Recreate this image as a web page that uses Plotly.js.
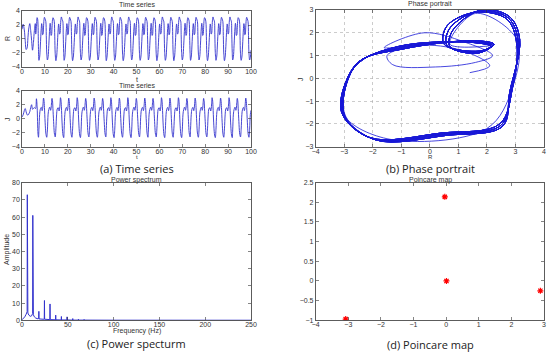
<!DOCTYPE html>
<html>
<head>
<meta charset="utf-8">
<script src="https://cdn.plot.ly/plotly-3.0.1.min.js"></script>
<style>html,body{margin:0;padding:0;background:#fff;}#chart{width:550px;height:352px;}</style>
</head>
<body>
<div id="chart"></div>
<script>
// ---- Time series (t, R, J): transient first, then one row per cycle ----
const tTime = [
  0.0,0.5,1.0,1.4,1.8,2.2,2.6,3.0,3.4,3.8,4.2,4.6,5.0,5.4,5.8,6.0,6.3,6.6,6.8,7.0,7.2,
  7.4,7.7,8.0,8.4,8.6,8.8,9.0,9.2,9.4,9.6,9.8,10.1,10.4,10.6,10.8,
  11.1,11.4,11.7,12.1,12.3,12.5,12.7,12.9,13.1,13.3,13.5,13.8,14.1,14.3,14.5,
  14.8,15.1,15.4,15.8,16.0,16.2,16.4,16.6,16.8,17.0,17.2,17.5,17.8,18.0,18.2,
  18.4,18.7,19.0,19.4,19.6,19.8,20.0,20.2,20.4,20.6,20.8,21.1,21.4,21.6,21.8,
  22.1,22.4,22.7,23.1,23.3,23.5,23.7,23.9,24.1,24.3,24.5,24.8,25.1,25.3,25.5,
  25.8,26.1,26.4,26.8,27.0,27.2,27.4,27.6,27.8,28.0,28.2,28.5,28.8,29.0,29.2,
  29.5,29.8,30.1,30.5,30.7,30.9,31.1,31.3,31.5,31.7,31.9,32.2,32.5,32.7,32.9,
  33.2,33.5,33.8,34.2,34.4,34.6,34.8,35.0,35.2,35.4,35.6,35.9,36.2,36.4,36.6,
  36.8,37.1,37.4,37.8,38.0,38.2,38.4,38.6,38.8,39.0,39.2,39.5,39.8,40.0,40.2,
  40.5,40.8,41.1,41.5,41.7,41.9,42.1,42.3,42.5,42.7,42.9,43.2,43.5,43.7,43.9,
  44.2,44.5,44.8,45.2,45.4,45.6,45.8,46.0,46.2,46.4,46.6,46.9,47.2,47.4,47.6,
  47.9,48.2,48.5,48.9,49.1,49.3,49.5,49.7,49.9,50.1,50.3,50.6,50.9,51.1,51.3,
  51.6,51.9,52.2,52.6,52.8,53.0,53.2,53.4,53.6,53.8,54.0,54.3,54.6,54.8,55.0,
  55.2,55.5,55.8,56.2,56.4,56.6,56.8,57.0,57.2,57.4,57.6,57.9,58.2,58.4,58.6,
  58.9,59.2,59.5,59.9,60.1,60.3,60.5,60.7,60.9,61.1,61.3,61.6,61.9,62.1,62.3,
  62.6,62.9,63.2,63.6,63.8,64.0,64.2,64.4,64.6,64.8,65.0,65.3,65.6,65.8,66.0,
  66.3,66.6,66.9,67.3,67.5,67.7,67.9,68.1,68.3,68.5,68.7,69.0,69.3,69.5,69.7,
  70.0,70.3,70.6,71.0,71.2,71.4,71.6,71.8,72.0,72.2,72.4,72.7,73.0,73.2,73.4,
  73.6,73.9,74.2,74.6,74.8,75.0,75.2,75.4,75.6,75.8,76.0,76.3,76.6,76.8,77.0,
  77.3,77.6,77.9,78.3,78.5,78.7,78.9,79.1,79.3,79.5,79.7,80.0,80.3,80.5,80.7,
  81.0,81.3,81.6,82.0,82.2,82.4,82.6,82.8,83.0,83.2,83.4,83.7,84.0,84.2,84.4,
  84.7,85.0,85.3,85.7,85.9,86.1,86.3,86.5,86.7,86.9,87.1,87.4,87.7,87.9,88.1,
  88.4,88.7,89.0,89.4,89.6,89.8,90.0,90.2,90.4,90.6,90.8,91.1,91.4,91.6,91.8,
  92.0,92.3,92.6,93.0,93.2,93.4,93.6,93.8,94.0,94.2,94.4,94.7,95.0,95.2,95.4,
  95.7,96.0,96.3,96.7,96.9,97.1,97.3,97.5,97.7,97.9,98.1,98.4,98.7,98.9,99.1,
  99.4,99.7,100.0
];
const seriesR = [
  1.4,2.1,1.3,-0.2,-1.5,-1.3,0.2,1.6,2.2,1.2,-0.2,-1.6,-0.5,1.2,2.2,0.7,1.6,3.05,2.9,2.0,-1.5,
  -3.05,-2.6,-1.0,1.5,2.2,1.7,0.6,0.7,1.7,2.75,3.1,2.85,2.5,0.5,-2.0,
  -3.0,-2.55,-0.9,1.6,2.25,1.75,0.5,0.6,1.6,2.7,3.05,2.9,2.45,0.4,-2.1,
  -3.1,-2.6,-1.1,1.45,2.15,1.65,0.7,0.8,1.8,2.8,3.15,2.8,2.55,0.6,-1.9,
  -3.05,-2.6,-1.0,1.5,2.2,1.7,0.6,0.7,1.7,2.75,3.1,2.85,2.5,0.5,-2.0,
  -3.1,-2.6,-1.1,1.45,2.15,1.65,0.7,0.8,1.8,2.8,3.15,2.8,2.55,0.6,-1.9,
  -3.0,-2.55,-0.9,1.6,2.25,1.75,0.5,0.6,1.6,2.7,3.05,2.9,2.45,0.4,-2.1,
  -3.05,-2.6,-1.0,1.5,2.2,1.7,0.6,0.7,1.7,2.75,3.1,2.85,2.5,0.5,-2.0,
  -3.0,-2.55,-0.9,1.6,2.25,1.75,0.5,0.6,1.6,2.7,3.05,2.9,2.45,0.4,-2.1,
  -3.1,-2.6,-1.1,1.45,2.15,1.65,0.7,0.8,1.8,2.8,3.15,2.8,2.55,0.6,-1.9,
  -3.05,-2.6,-1.0,1.5,2.2,1.7,0.6,0.7,1.7,2.75,3.1,2.85,2.5,0.5,-2.0,
  -3.1,-2.6,-1.1,1.45,2.15,1.65,0.7,0.8,1.8,2.8,3.15,2.8,2.55,0.6,-1.9,
  -3.0,-2.55,-0.9,1.6,2.25,1.75,0.5,0.6,1.6,2.7,3.05,2.9,2.45,0.4,-2.1,
  -3.05,-2.6,-1.0,1.5,2.2,1.7,0.6,0.7,1.7,2.75,3.1,2.85,2.5,0.5,-2.0,
  -3.0,-2.55,-0.9,1.6,2.25,1.75,0.5,0.6,1.6,2.7,3.05,2.9,2.45,0.4,-2.1,
  -3.1,-2.6,-1.1,1.45,2.15,1.65,0.7,0.8,1.8,2.8,3.15,2.8,2.55,0.6,-1.9,
  -3.05,-2.6,-1.0,1.5,2.2,1.7,0.6,0.7,1.7,2.75,3.1,2.85,2.5,0.5,-2.0,
  -3.1,-2.6,-1.1,1.45,2.15,1.65,0.7,0.8,1.8,2.8,3.15,2.8,2.55,0.6,-1.9,
  -3.0,-2.55,-0.9,1.6,2.25,1.75,0.5,0.6,1.6,2.7,3.05,2.9,2.45,0.4,-2.1,
  -3.05,-2.6,-1.0,1.5,2.2,1.7,0.6,0.7,1.7,2.75,3.1,2.85,2.5,0.5,-2.0,
  -3.0,-2.55,-0.9,1.6,2.25,1.75,0.5,0.6,1.6,2.7,3.05,2.9,2.45,0.4,-2.1,
  -3.1,-2.6,-1.1,1.45,2.15,1.65,0.7,0.8,1.8,2.8,3.15,2.8,2.55,0.6,-1.9,
  -3.05,-2.6,-1.0,1.5,2.2,1.7,0.6,0.7,1.7,2.75,3.1,2.85,2.5,0.5,-2.0,
  -3.1,-2.6,-1.1,1.45,2.15,1.65,0.7,0.8,1.8,2.8,3.15,2.8,2.55,0.6,-1.9,
  -3.0,-2.55,-0.9,1.6,2.25,1.75,0.5,0.6,1.6,2.7,3.05,2.9,2.45,0.4,-2.1,
  -3.05,-2.6,-1.0,1.5,2.2,1.7,0.6,0.7,1.7,2.75,3.1,2.85,2.5,0.5,-2.0,
  -3.0,-2.6,-1.6
];
const seriesJ = [
  0.25,0.55,1.15,1.45,1.0,0.6,0.5,0.7,1.0,1.6,2.0,1.35,1.45,1.6,1.45,1.5,2.85,1.7,-0.4,-2.2,-2.65,
  -1.5,0.6,1.35,1.62,1.45,1.15,1.45,2.2,2.95,2.65,1.6,-0.5,-2.05,-2.45,-2.65,
  -1.6,0.65,1.3,1.65,1.5,1.2,1.5,2.3,2.9,2.6,1.5,-0.4,-2.0,-2.4,-2.6,
  -1.45,0.55,1.4,1.58,1.4,1.1,1.4,2.1,3.0,2.7,1.7,-0.6,-2.1,-2.5,-2.7,
  -1.5,0.6,1.35,1.62,1.45,1.15,1.45,2.2,2.95,2.65,1.6,-0.5,-2.05,-2.45,-2.65,
  -1.45,0.55,1.4,1.58,1.4,1.1,1.4,2.1,3.0,2.7,1.7,-0.6,-2.1,-2.5,-2.7,
  -1.6,0.65,1.3,1.65,1.5,1.2,1.5,2.3,2.9,2.6,1.5,-0.4,-2.0,-2.4,-2.6,
  -1.5,0.6,1.35,1.62,1.45,1.15,1.45,2.2,2.95,2.65,1.6,-0.5,-2.05,-2.45,-2.65,
  -1.6,0.65,1.3,1.65,1.5,1.2,1.5,2.3,2.9,2.6,1.5,-0.4,-2.0,-2.4,-2.6,
  -1.45,0.55,1.4,1.58,1.4,1.1,1.4,2.1,3.0,2.7,1.7,-0.6,-2.1,-2.5,-2.7,
  -1.5,0.6,1.35,1.62,1.45,1.15,1.45,2.2,2.95,2.65,1.6,-0.5,-2.05,-2.45,-2.65,
  -1.45,0.55,1.4,1.58,1.4,1.1,1.4,2.1,3.0,2.7,1.7,-0.6,-2.1,-2.5,-2.7,
  -1.6,0.65,1.3,1.65,1.5,1.2,1.5,2.3,2.9,2.6,1.5,-0.4,-2.0,-2.4,-2.6,
  -1.5,0.6,1.35,1.62,1.45,1.15,1.45,2.2,2.95,2.65,1.6,-0.5,-2.05,-2.45,-2.65,
  -1.6,0.65,1.3,1.65,1.5,1.2,1.5,2.3,2.9,2.6,1.5,-0.4,-2.0,-2.4,-2.6,
  -1.45,0.55,1.4,1.58,1.4,1.1,1.4,2.1,3.0,2.7,1.7,-0.6,-2.1,-2.5,-2.7,
  -1.5,0.6,1.35,1.62,1.45,1.15,1.45,2.2,2.95,2.65,1.6,-0.5,-2.05,-2.45,-2.65,
  -1.45,0.55,1.4,1.58,1.4,1.1,1.4,2.1,3.0,2.7,1.7,-0.6,-2.1,-2.5,-2.7,
  -1.6,0.65,1.3,1.65,1.5,1.2,1.5,2.3,2.9,2.6,1.5,-0.4,-2.0,-2.4,-2.6,
  -1.5,0.6,1.35,1.62,1.45,1.15,1.45,2.2,2.95,2.65,1.6,-0.5,-2.05,-2.45,-2.65,
  -1.6,0.65,1.3,1.65,1.5,1.2,1.5,2.3,2.9,2.6,1.5,-0.4,-2.0,-2.4,-2.6,
  -1.45,0.55,1.4,1.58,1.4,1.1,1.4,2.1,3.0,2.7,1.7,-0.6,-2.1,-2.5,-2.7,
  -1.5,0.6,1.35,1.62,1.45,1.15,1.45,2.2,2.95,2.65,1.6,-0.5,-2.05,-2.45,-2.65,
  -1.45,0.55,1.4,1.58,1.4,1.1,1.4,2.1,3.0,2.7,1.7,-0.6,-2.1,-2.5,-2.7,
  -1.6,0.65,1.3,1.65,1.5,1.2,1.5,2.3,2.9,2.6,1.5,-0.4,-2.0,-2.4,-2.6,
  -1.5,0.6,1.35,1.62,1.45,1.15,1.45,2.2,2.95,2.65,1.6,-0.5,-2.05,-2.45,-2.65,
  -1.5,0.6,1.2
];

// ---- Power spectrum ----
const freqHz = [0,1.5,3,4.5,5.6,5.8,5.9,6.0,6.1,6.4,7.5,9,10.5,11.6,11.8,11.9,12.0,12.1,12.4,13.5,15,17.5,
  18.2,18.4,18.6,23,24.3,24.5,24.7,30.4,30.6,30.8,36.6,36.8,37.0,42.8,43.0,43.2,49.0,49.2,49.4,
  55.2,55.4,55.6,61.4,61.6,61.8,67.6,67.8,68.0,100,250];
const amplitude = [0.3,1.0,2.0,3.5,5,73,6,47,5,4.2,3,2.3,2.6,4,61,5,29,4.5,3.2,2,1.3,0.8,
  1,5.2,0.8,0.6,0.6,11.5,0.6,0.4,9.5,0.4,0.3,3,0.3,0.2,2.2,0.2,0.2,2.0,0.2,
  0.1,1.0,0.1,0.1,0.6,0.1,0.1,0.5,0.1,0.05,0.02];

// ---- Poincare map ----
const poincareR = [-0.04, 0.01, 2.89, -3.08];
const poincareJ = [2.14, 0.0, -0.25, -0.97];

const lineBlue = 'rgb(50,50,205)';
const traces = [
  {x: tTime, y: seriesR, xaxis:'x', yaxis:'y', type:'scatter', mode:'lines',
   line:{color:lineBlue, width:0.9, shape:'spline', smoothing:1}},
  {x: tTime, y: seriesJ, xaxis:'x2', yaxis:'y2', type:'scatter', mode:'lines',
   line:{color:lineBlue, width:0.9, shape:'spline', smoothing:1}},
  {x: seriesR, y: seriesJ, xaxis:'x3', yaxis:'y3', type:'scatter', mode:'lines',
   line:{color:'rgb(25,25,215)', width:0.8, shape:'spline', smoothing:1}},
  {x: freqHz, y: amplitude, xaxis:'x4', yaxis:'y4', type:'scatter', mode:'lines',
   line:{color:lineBlue, width:1}},
  {x: poincareR, y: poincareJ, xaxis:'x5', yaxis:'y5', type:'scatter', mode:'markers',
   marker:{symbol:'asterisk-open', size:5, color:'red', line:{color:'red', width:1.2}}}
];

function ax(domain, range, dtick, extra) {
  return Object.assign({
    domain: domain, range: range, dtick: dtick, tick0: range[0],
    showline: true, mirror: 'allticks', linecolor: '#333', linewidth: 0.8,
    ticks: 'inside', ticklen: 3, tickcolor: '#333', tickwidth: 0.6,
    ticklabelstandoff: -2,
    tickfont: {family: 'Liberation Sans, Arial, sans-serif', size: 7, color: '#333'},
    showgrid: false, zeroline: false, automargin: false
  }, extra || {});
}
const gridOpts = {showgrid: true, gridcolor: '#aaa', griddash: 'dot', gridwidth: 0.6};
const yOpts = {ticklabelstandoff: 0};

const small = {family: 'Liberation Sans, Arial, sans-serif', size: 7, color: '#333'};
const tiny = {family: 'Liberation Sans, Arial, sans-serif', size: 6, color: '#333'};
const cap = {family: 'Open Sans, Noto Sans, sans-serif', size: 11, color: '#222'};
function ann(text, xpx, ypx, font, angle) {
  return {text: text, x: xpx / 550, y: 1 - ypx / 352, xref: 'paper', yref: 'paper', showarrow: false,
          xanchor: 'center', yanchor: 'middle', font: font, textangle: angle || 0, borderpad: 0};
}

const layout = {
  width: 550, height: 352,
  margin: {l: 0, r: 0, t: 0, b: 0},
  paper_bgcolor: '#fff', plot_bgcolor: '#fff',
  showlegend: false,
  xaxis:  ax([0.04, 0.4564], [0, 100], 10, {anchor: 'y'}),
  yaxis:  ax([0.8097, 0.96875], [-4, 4], 2, Object.assign({anchor: 'x'}, yOpts)),
  xaxis2: ax([0.04, 0.4564], [0, 100], 10, {anchor: 'y2'}),
  yaxis2: ax([0.5832, 0.7423], [-4, 4], 2, Object.assign({anchor: 'x2'}, yOpts)),
  xaxis3: ax([0.574, 0.989], [-4, 4], 1, Object.assign({anchor: 'y3'}, gridOpts)),
  yaxis3: ax([0.5832, 0.9716], [-3, 3], 1, Object.assign({anchor: 'x3'}, gridOpts, yOpts)),
  xaxis4: ax([0.04, 0.4564], [0, 250], 50, {anchor: 'y4'}),
  yaxis4: ax([0.0901, 0.4810], [0, 80], 10, Object.assign({anchor: 'x4'}, yOpts)),
  xaxis5: ax([0.574, 0.989], [-4, 3], 1, {anchor: 'y5'}),
  yaxis5: ax([0.0901, 0.4810], [-1, 2.5], 0.5, Object.assign({anchor: 'x5'}, yOpts)),
  annotations: [
    ann('Time series', 136.5, 5, small),
    ann('R', 7, 39, small, -90),
    ann('t', 136.5, 79.5, small),
    ann('Time series', 136.5, 85, small),
    ann('J', 7, 119, small, -90),
    ann('t', 136.5, 156.5, tiny),
    ann('(a) Time series', 136.5, 168.5, cap),
    ann('Phase portrait', 430, 4, small),
    ann('R', 430, 156.5, tiny),
    ann('J', 301, 79, small, -90),
    ann('(b) Phase portrait', 430, 168.5, cap),
    ann('Power spectrum', 136.5, 180, small),
    ann('Amplitude', 7, 250, small, -90),
    ann('Frequency (Hz)', 136.5, 331, small),
    ann('(c) Power specturm', 136.5, 343, cap),
    ann('Poincare map', 430, 180, small),
    ann('(d) Poincare map', 430, 344, cap)
  ]
};

Plotly.newPlot('chart', traces, layout, {staticPlot: true, displayModeBar: false});
</script>
</body>
</html>
